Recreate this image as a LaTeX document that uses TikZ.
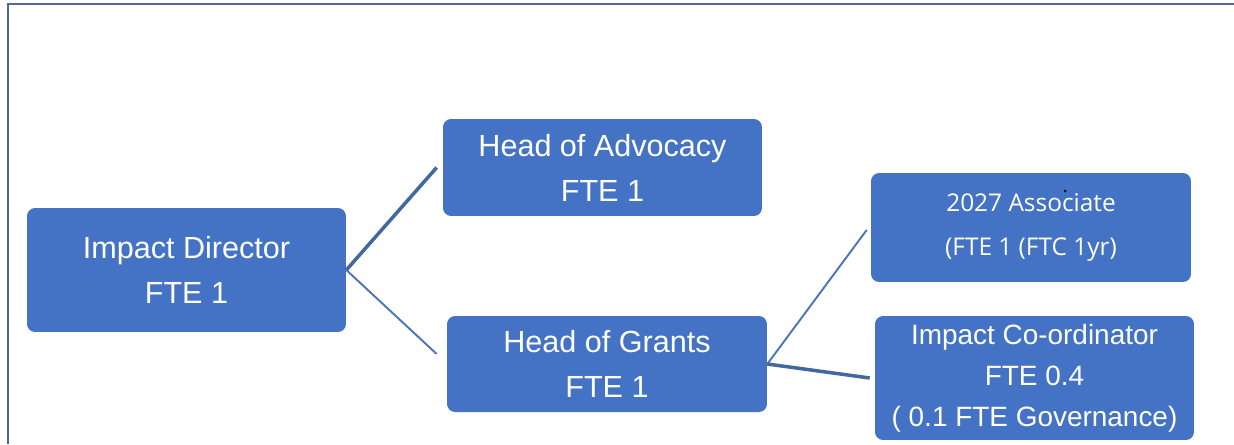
\documentclass[tikz,border=0pt]{standalone}
\usepackage{fontspec}
\setmainfont{Liberation Sans}
\newfontfamily\segoe{Open Sans}

\definecolor{boxblue}{HTML}{4472C4}
\definecolor{lineblue}{HTML}{4A76B8}
\definecolor{linedark}{HTML}{41699E}
\definecolor{framecol}{HTML}{4F6A9A}

\begin{document}
\begin{tikzpicture}[x=0.02cm,y=-0.02cm,
		role/.style={fill=boxblue,text=white,rounded corners=0.16cm,align=center,inner sep=0pt},
		bigtext/.style={font=\fontsize{17.4}{25.6}\selectfont},
		midtext/.style={font=\fontsize{15.9}{23.3}\selectfont},
		smalltext/.style={font=\segoe\fontsize{13.9}{25}\selectfont},
		link/.style={draw=lineblue,line width=1.1pt},
		boldlink/.style={draw=linedark,line width=2pt}]
		\useasboundingbox (0,0) rectangle (1234,444);

		% outer frame, only top and left edges show
		\draw[framecol,line width=1.2pt] (8,444) -- (8,4) -- (1234,4);

		% boxes
		\node[role,bigtext,minimum width=6.38cm,minimum height=2.48cm] (dir) at (186.5,270) {Impact Director\\FTE 1};
		\node[role,bigtext,minimum width=6.38cm,minimum height=1.94cm] (adv) at (602.5,167.5) {Head of Advocacy\\FTE 1};
		\node[role,bigtext,minimum width=6.4cm,minimum height=1.92cm] (grants) at (607,364) {Head of Grants\\FTE 1};
		\node[role,smalltext,minimum width=6.4cm,minimum height=2.18cm] (assoc) at (1031,227.5) {2027 Associate\\(FTE 1 (FTC 1yr)};
		\node[role,midtext,minimum width=6.38cm,minimum height=2.48cm] (coord) at (1034.5,378) {Impact Co-ordinator\\FTE 0.4\\( 0.1 FTE Governance)};

		% stray dot above the associate label
		\fill[black] (1065,191) circle (0.03cm);

		% Draw lines out of the director
		\draw[boldlink] (dir.east) -- ([xshift=-0.12cm]adv.west); % up to advocacy
		\draw[link] (dir.east) -- ([xshift=-0.2cm,yshift=0.2cm]grants.west); % down to grants

		% Draw lines out of grants
		\draw[link] (grants.east) -- ([xshift=-0.08cm,yshift=-0.05cm]assoc.west); % up to associate
		\draw[boldlink] (grants.east) -- ([xshift=-0.1cm]coord.west); % across to co-ordinator

	\end{tikzpicture}
\end{document}
